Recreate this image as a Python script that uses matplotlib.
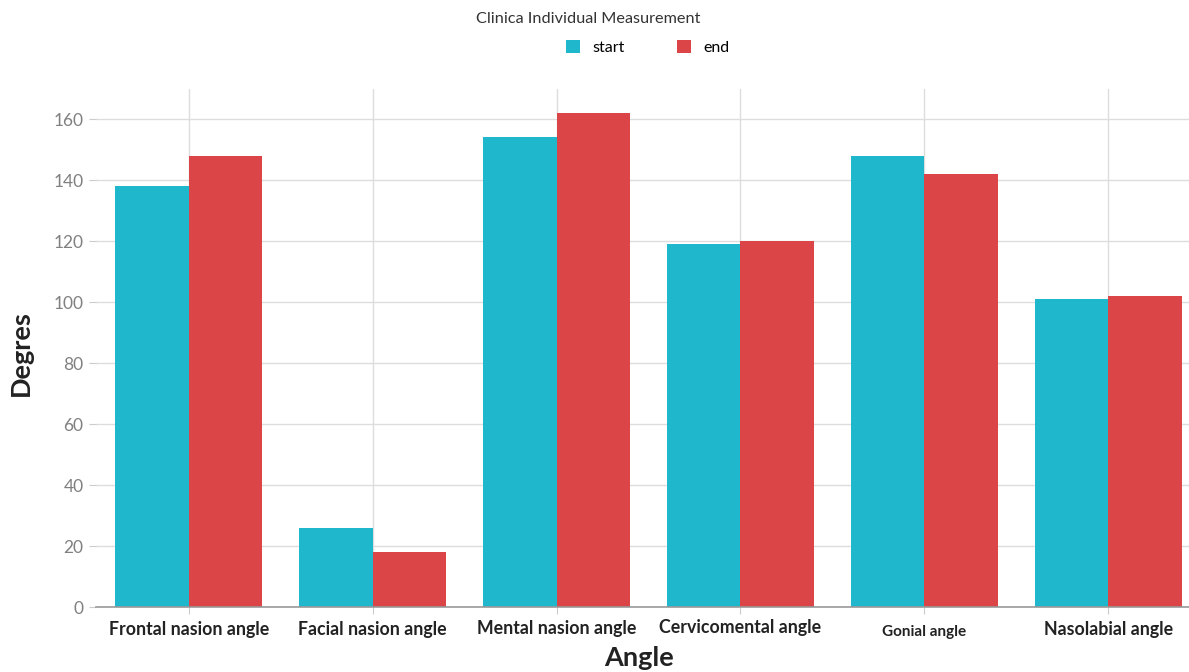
import matplotlib.pyplot as plt
import numpy as np

# данные
angles = ["Frontal nasion angle", "Facial nasion angle", "Mental nasion angle",
          "Cervicomental angle", "Gonial angle", "Nasolabial angle"]
start = [138, 26, 154, 119, 148, 101]
end = [148, 18, 162, 120, 142, 102]

c_start = "#1fb7cc"
c_end = "#db4547"

plt.rcParams["font.family"] = ["Lato", "DejaVu Sans"]

fig = plt.figure(figsize=(11.89, 6.72), dpi=100)
ax = fig.add_axes([0.0807, 0.0967, 0.9193, 0.7713])

x = np.arange(len(angles))
w = 0.4
ax.bar(x - w / 2, start, w, color=c_start, label="start", zorder=3)
ax.bar(x + w / 2, end, w, color=c_end, label="end", zorder=3)

ax.set_xlim(-0.505, 5.44)
ax.set_ylim(0, 170)
ax.set_yticks(range(0, 161, 20))
ax.set_xticks(x)
ax.set_xticklabels(angles, fontsize=12.8, fontweight="bold", color="#222222")
ax.tick_params(axis="x", length=5, color="#cccccc", pad=5)
ax.tick_params(axis="y", length=5, color="#cccccc", labelcolor="#808080",
               labelsize=12.5, pad=4)

# сдвиги подписей как на оригинале
offs = [0, 0, -1, -2, 4, 0]
for lab, dy in zip(ax.get_xticklabels(), offs):
    lab.set_y(lab.get_position()[1] - dy / 672 / 0.7713)
ax.get_xticklabels()[4].set_fontsize(11)

ax.grid(True, color="#dddddd", linewidth=1, zorder=0)
for s in ["top", "right", "left"]:
    ax.spines[s].set_visible(False)
ax.spines["bottom"].set_color("#999999")
ax.spines["bottom"].set_linewidth(1.2)
ax.spines["bottom"].set_zorder(4)

ax.set_ylabel("Degres", fontsize=19.5, fontweight="bold", color="#222222")
ax.yaxis.set_label_coords(-0.058, 0.49)
ax.set_xlabel("Angle", fontsize=19.5, fontweight="bold", color="#222222")
ax.xaxis.set_label_coords(0.497, -0.076)

fig.text(0.495, 0.972, "Clinica Individual Measurement", ha="center", va="center",
         fontsize=11.7, color="#333333")
fig.legend(loc="center", bbox_to_anchor=(0.545, 0.929), ncol=2, frameon=False,
           fontsize=11.5, handlelength=0.85, handleheight=0.85,
           columnspacing=3.3, handletextpad=0.8)

plt.savefig("out.png", dpi=100)
plt.close()
